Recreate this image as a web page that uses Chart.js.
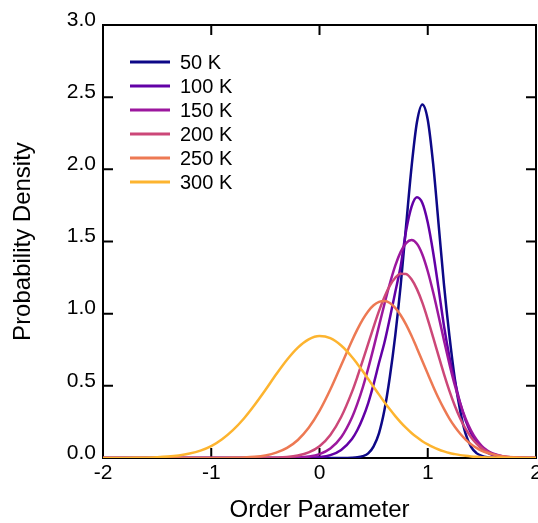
<!DOCTYPE html>
<html>
<head>
<meta charset="utf-8">
<script src="https://cdn.jsdelivr.net/npm/chart.js@4.4.1/dist/chart.umd.min.js"></script>
<style>
    body { margin: 0; background: #fff; }
    canvas { display: block; }
</style>
</head>
<body>
<canvas id="densityChart" width="538" height="523"></canvas>
<script>
// order parameter grid (finer around the peaks)
const orderParam = [-2.0, -1.9, -1.8, -1.7, -1.6, -1.5, -1.4, -1.3, -1.2, -1.1, -1.0, -0.9, -0.8, -0.7, -0.6, -0.5, -0.4, -0.3, -0.2, -0.1, 0.0, 0.1, 0.2, 0.3,
    0.35, 0.4, 0.45, 0.5, 0.55, 0.6, 0.65, 0.7, 0.75, 0.8, 0.85, 0.9, 0.95, 1.0, 1.05, 1.1, 1.15, 1.2, 1.25, 1.3, 1.35, 1.4, 1.45, 1.5, 1.55, 1.6,
    1.7, 1.8, 1.9, 2.0];

const temps = ['50 K', '100 K', '150 K', '200 K', '250 K', '300 K'];
const colors = ['#0d0887', '#6200a6', '#9c179e', '#cc4778', '#ed7953', '#fdb42f'];

const density50 = [0, 0, 0, 0, 0, 0, 0, 0, 0, 0, 0, 0, 0, 0, 0, 0, 0, 0, 0, 0, 0, 0, 0.0001, 0.0016,
    0.0047, 0.013, 0.032, 0.081, 0.173, 0.332, 0.563, 0.850, 1.198, 1.610, 2.014, 2.326, 2.450, 2.344, 2.037, 1.621, 1.201, 0.848, 0.55, 0.326, 0.167, 0.077, 0.034, 0.014, 0.005, 0.0015,
    0.0001, 0, 0, 0];
const density100 = [0, 0, 0, 0, 0, 0, 0, 0, 0, 0, 0, 0, 0, 0, 0, 0, 0, 0.0001, 0.0004, 0.0016, 0.006, 0.020, 0.056, 0.132,
    0.194, 0.277, 0.381, 0.512, 0.660, 0.80, 0.97, 1.15, 1.33, 1.574, 1.740, 1.806, 1.766, 1.631, 1.424, 1.174, 0.915, 0.702, 0.530, 0.380, 0.259, 0.171, 0.107, 0.064, 0.037, 0.021,
    0.0052, 0.0011, 0.0002, 0];
const density150 = [0, 0, 0, 0, 0, 0, 0, 0, 0, 0, 0, 0, 0, 0, 0, 0.0001, 0.0003, 0.001, 0.0033, 0.010, 0.027, 0.066, 0.144, 0.281,
    0.377, 0.490, 0.621, 0.765, 0.916, 1.067, 1.209, 1.333, 1.428, 1.489, 1.51, 1.484, 1.410, 1.294, 1.148, 0.984, 0.815, 0.652, 0.504, 0.377, 0.272, 0.190, 0.128, 0.083, 0.052, 0.032,
    0.011, 0.0031, 0.0008, 0.0002];
const density200 = [0, 0, 0, 0, 0, 0, 0, 0, 0, 0, 0, 0, 0, 0.0001, 0.0002, 0.0008, 0.0023, 0.0065, 0.017, 0.039, 0.082, 0.160, 0.284, 0.458,
    0.563, 0.676, 0.793, 0.909, 1.019, 1.116, 1.194, 1.249, 1.277, 1.275, 1.238, 1.170, 1.076, 0.961, 0.836, 0.707, 0.581, 0.465, 0.362, 0.274, 0.201, 0.144, 0.100, 0.068, 0.045, 0.029,
    0.011, 0.0036, 0.0011, 0.0003];
const density250 = [0, 0, 0, 0, 0, 0, 0, 0, 0, 0, 0.0002, 0.0005, 0.0013, 0.0034, 0.0081, 0.018, 0.037, 0.070, 0.125, 0.209, 0.326, 0.474, 0.643, 0.813,
    0.891, 0.960, 1.017, 1.058, 1.082, 1.088, 1.074, 1.040, 0.989, 0.924, 0.847, 0.761, 0.672, 0.583, 0.496, 0.414, 0.340, 0.273, 0.216, 0.168, 0.128, 0.095, 0.070, 0.050, 0.036, 0.025,
    0.011, 0.0047, 0.0019, 0.0007];
const density300 = [0.0001, 0.0002, 0.0005, 0.0012, 0.0025, 0.005, 0.0098, 0.018, 0.031, 0.051, 0.082, 0.130, 0.193, 0.272, 0.367, 0.471, 0.580, 0.681, 0.765, 0.822, 0.845, 0.830, 0.779, 0.700,
    0.652, 0.601, 0.547, 0.493, 0.439, 0.387, 0.337, 0.290, 0.247, 0.208, 0.173, 0.143, 0.116, 0.094, 0.075, 0.059, 0.046, 0.035, 0.027, 0.020, 0.015, 0.011, 0.008, 0.006, 0.004, 0.003,
    0.0014, 0.0006, 0.0003, 0.0001];

const allDensities = [density50, density100, density150, density200, density250, density300];

const FONT = "'Liberation Sans', Arial, sans-serif";

// frame with inward ticks on all four sides
const framePlugin = {
    id: 'frame',
    beforeDatasetsDraw(chart) {
        const {ctx, chartArea: a, scales} = chart;
        const len = 10;
        ctx.save();
        ctx.strokeStyle = '#000';
        ctx.lineWidth = 2;
        ctx.strokeRect(a.left, a.top, a.right - a.left, a.bottom - a.top);
        ctx.beginPath();
        scales.x.ticks.forEach(t => {
            if (t.value <= scales.x.min || t.value >= scales.x.max) return;
            const px = scales.x.getPixelForValue(t.value);
            ctx.moveTo(px, a.bottom); ctx.lineTo(px, a.bottom - len);
            ctx.moveTo(px, a.top); ctx.lineTo(px, a.top + len);
        });
        scales.y.ticks.forEach(t => {
            if (t.value <= scales.y.min || t.value >= scales.y.max) return;
            const py = scales.y.getPixelForValue(t.value);
            ctx.moveTo(a.left, py); ctx.lineTo(a.left + len, py);
            ctx.moveTo(a.right, py); ctx.lineTo(a.right - len, py);
        });
        ctx.stroke();
        ctx.restore();
    }
};

// legend in the upper left corner of the plot
const legendPlugin = {
    id: 'innerLegend',
    afterDraw(chart) {
        const {ctx, chartArea: a} = chart;
        ctx.save();
        ctx.font = '20px ' + FONT;
        ctx.textBaseline = 'middle';
        ctx.fillStyle = '#000';
        chart.data.datasets.forEach((ds, i) => {
            const y = a.top + 37 + i * 24;
            ctx.strokeStyle = ds.borderColor;
            ctx.lineWidth = 3;
            ctx.beginPath();
            ctx.moveTo(a.left + 27, y);
            ctx.lineTo(a.left + 67, y);
            ctx.stroke();
            ctx.fillText(ds.label, a.left + 77, y + 1);
        });
        ctx.restore();
    }
};

const ctx = document.getElementById('densityChart').getContext('2d');
new Chart(ctx, {
    type: 'line',
    data: {
        datasets: temps.map((label, i) => ({
            label: label,
            data: orderParam.map((x, j) => ({x: x, y: allDensities[i][j]})),
            borderColor: colors[i],
            backgroundColor: colors[i],
            borderWidth: 2.5,
            pointRadius: 0,
            fill: false,
            cubicInterpolationMode: 'monotone',
            order: temps.length - i
        }))
    },
    options: {
        responsive: false,
        animation: false,
        devicePixelRatio: 1,
        layout: { padding: { top: 25, right: 2, left: 0, bottom: 0 } },
        plugins: {
            legend: { display: false },
            tooltip: { enabled: false }
        },
        scales: {
            x: {
                type: 'linear',
                min: -2,
                max: 2,
                grid: { display: false, drawTicks: false },
                border: { display: false },
                ticks: {
                    stepSize: 1,
                    padding: 3,
                    color: '#000',
                    font: { family: FONT, size: 21 }
                },
                title: {
                    display: true,
                    text: 'Order Parameter',
                    color: '#000',
                    font: { family: FONT, size: 24 },
                    padding: { top: 0, bottom: -2 }
                },
                afterFit(scale) {
                    scale.height = 65;
                    scale.paddingLeft = 0;
                    scale.paddingRight = 0;
                }
            },
            y: {
                min: 0,
                max: 3,
                grid: { display: false, drawTicks: false },
                border: { display: false },
                ticks: {
                    stepSize: 0.5,
                    padding: 7,
                    labelOffset: -5,
                    color: '#000',
                    font: { family: FONT, size: 21 },
                    callback: v => v.toFixed(1)
                },
                title: {
                    display: true,
                    text: 'Probability Density',
                    color: '#000',
                    font: { family: FONT, size: 24 },
                    padding: { top: 9, bottom: 0 }
                },
                afterFit(scale) {
                    scale.width = 103;
                    scale.paddingTop = 0;
                    scale.paddingBottom = 0;
                }
            }
        }
    },
    plugins: [framePlugin, legendPlugin]
});
</script>
</body>
</html>
